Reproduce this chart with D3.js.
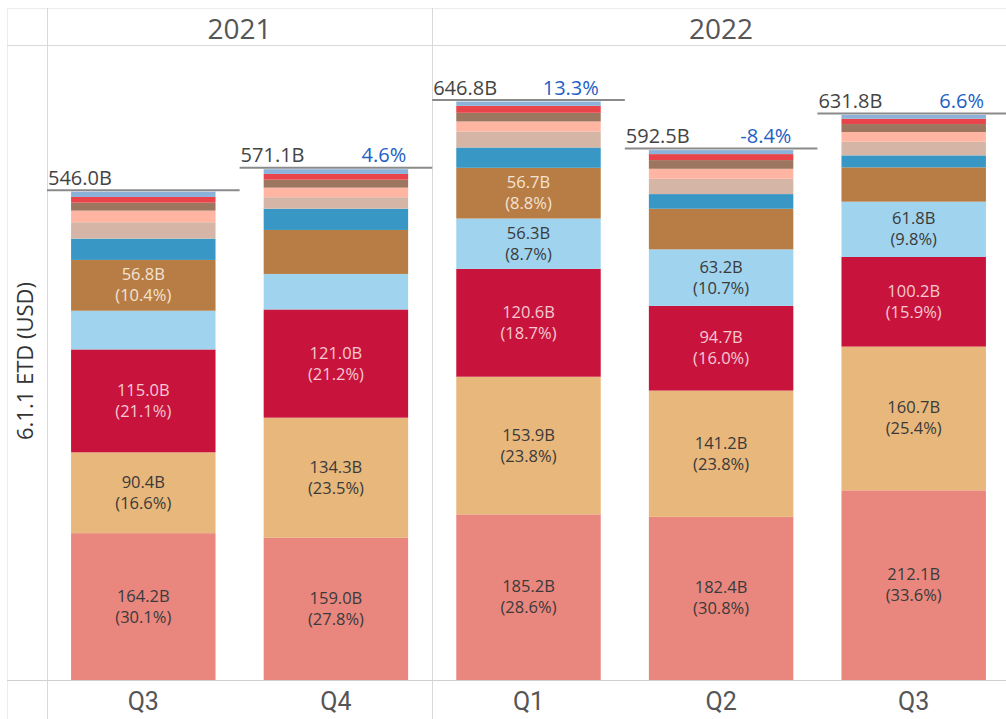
<!DOCTYPE html>
<html>
<head>
<meta charset="utf-8">
<script src="https://cdn.jsdelivr.net/npm/d3@7"></script>
<style>
  body { margin: 0; background: #fff; }
  svg text { font-family: "Open Sans", "Noto Sans", sans-serif; }
</style>
</head>
<body>
<script>
// quarters and the year they sit under
var years = ["2021", "2022"];
var quarters = ["2021 Q3", "2021 Q4", "2022 Q1", "2022 Q2", "2022 Q3"];
var quarterLabels = ["Q3", "Q4", "Q1", "Q2", "Q3"];

// stacked series, bottom to top (billions USD)
var series = ["s1", "s2", "s3", "s4", "s5", "s6", "s7", "s8", "s9", "s10", "s11"];
var s1  = [164.2, 159.0, 185.2, 182.4, 212.1];
var s2  = [90.4, 134.3, 153.9, 141.2, 160.7];
var s3  = [115.0, 121.0, 120.6, 94.7, 100.2];
var s4  = [43.3, 39.7, 56.3, 63.2, 61.8];
var s5  = [56.8, 49.2, 56.7, 45.4, 38.4];
var s6  = [23.8, 23.8, 22.7, 16.4, 13.4];
var s7  = [18.3, 12.8, 17.9, 17.1, 15.3];
var s8  = [13.0, 10.7, 11.2, 11.2, 10.8];
var s9  = [8.9, 8.9, 9.7, 9.7, 8.9];
var s10 = [6.4, 6.4, 7.8, 6.7, 5.9];
var s11 = [5.9, 5.3, 4.8, 4.5, 4.3];

// share of quarter total (%), as printed on the labels
var p1 = [30.1, 27.8, 28.6, 30.8, 33.6];
var p2 = [16.6, 23.5, 23.8, 23.8, 25.4];
var p3 = [21.1, 21.2, 18.7, 16.0, 15.9];
var p4 = [7.9, 7.0, 8.7, 10.7, 9.8];
var p5 = [10.4, 8.6, 8.8, 7.7, 6.1];

var totals = [546.0, 571.1, 646.8, 592.5, 631.8];
var changes = [null, "4.6%", "13.3%", "-8.4%", "6.6%"];

var colors = ["#e9877f", "#e8b77b", "#c8143c", "#a0d3ee", "#b87d45", "#3897c5",
              "#d5b5a6", "#ffb5a1", "#9d7660", "#e8444a", "#8db2da"];
var labelColors = ["#3a3a3a", "#3a3a3a", "#f6c8d2", "#3a3a3a", "#f3e3d3"];

var allSeries = [s1, s2, s3, s4, s5, s6, s7, s8, s9, s10, s11];
var allShares = [p1, p2, p3, p4, p5];

var width = 1006, height = 719;
var plotLeft = 47, plotRight = 1010, plotTop = 45, plotBottom = 680;

var svg = d3.select("body").append("svg")
            .attr("width", width)
            .attr("height", height);

// table-like frame lines
var gridColor = "#d9d9d9";
svg.append("line").attr("x1", 7).attr("x2", width).attr("y1", 8.5).attr("y2", 8.5)
   .attr("stroke", "#ececec");
svg.append("line").attr("x1", 7.5).attr("x2", 7.5).attr("y1", 8).attr("y2", height)
   .attr("stroke", "#ececec");
svg.append("line").attr("x1", 7).attr("x2", width).attr("y1", plotTop + 0.5).attr("y2", plotTop + 0.5)
   .attr("stroke", gridColor);

var x = d3.scaleBand()
          .domain(quarters)
          .range([plotLeft, plotRight])
          .paddingInner(0.25)
          .paddingOuter(0.125);

var y = d3.scaleLinear()
          .domain([0, 710])
          .range([plotBottom, plotTop]);

// year divider and plot left line
var yearDividerX = x(quarters[2]) - x.step() * x.paddingInner() / 2;
svg.append("line").attr("x1", plotLeft + 0.5).attr("x2", plotLeft + 0.5)
   .attr("y1", 8).attr("y2", height).attr("stroke", gridColor);
svg.append("line").attr("x1", Math.round(yearDividerX) + 0.5).attr("x2", Math.round(yearDividerX) + 0.5)
   .attr("y1", 8).attr("y2", height).attr("stroke", gridColor);

// year headers
var yearSpans = [[plotLeft, yearDividerX], [yearDividerX, plotRight]];
svg.selectAll(".year").data(years).enter().append("text")
   .attr("x", function(d, i) { return (yearSpans[i][0] + yearSpans[i][1]) / 2; })
   .attr("y", 39)
   .attr("text-anchor", "middle")
   .attr("font-size", 28)
   .attr("fill", "#555")
   .text(function(d) { return d; });

// stack the data
var rows = quarters.map(function(q, i) {
  var r = { q: q };
  series.forEach(function(s, k) { r[s] = allSeries[k][i]; });
  return r;
});
var stacked = d3.stack().keys(series)(rows);

var layers = svg.selectAll(".layer").data(stacked).enter().append("g")
                .attr("fill", function(d, k) { return colors[k]; });

layers.selectAll("rect").data(function(d) { return d; }).enter().append("rect")
      .attr("x", function(d) { return x(d.data.q); })
      .attr("width", x.bandwidth())
      .attr("y", function(d) { return y(d[1]); })
      .attr("height", function(d) { return y(d[0]) - y(d[1]); });

// segment labels for the larger pieces
stacked.forEach(function(layer, k) {
  layer.forEach(function(d, i) {
    var v = d[1] - d[0];
    if (v < 50 || k >= allShares.length) return;
    var cx = x(d.data.q) + x.bandwidth() / 2;
    var cy = (y(d[0]) + y(d[1])) / 2;
    var t = svg.append("text")
               .attr("text-anchor", "middle")
               .attr("font-size", 16.5)
               .attr("fill", labelColors[k]);
    t.append("tspan").attr("x", cx).attr("y", cy - 5).text(v.toFixed(1) + "B");
    t.append("tspan").attr("x", cx).attr("y", cy + 16)
     .text("(" + allShares[k][i].toFixed(1) + "%)");
  });
});

// total reference lines and labels
quarters.forEach(function(q, i) {
  var cellLeft = x(q) - x.step() * x.paddingInner() / 2;
  var cellRight = cellLeft + x.step();
  var ty = y(totals[i]);
  svg.append("line")
     .attr("x1", cellLeft).attr("x2", Math.min(cellRight, width))
     .attr("y1", ty - 1.5).attr("y2", ty - 1.5)
     .attr("stroke", "#8a8a8a").attr("stroke-width", 2);
  svg.append("text")
     .attr("x", cellLeft + 1)
     .attr("y", ty - 7)
     .attr("font-size", 20)
     .attr("fill", "#444")
     .text(totals[i].toFixed(1) + "B");
  if (changes[i]) {
    svg.append("text")
       .attr("x", cellRight - 26)
       .attr("y", ty - 7)
       .attr("text-anchor", "end")
       .attr("font-size", 20)
       .attr("fill", "#2260c4")
       .text(changes[i]);
  }
});

// x axis line
svg.append("line").attr("x1", 7).attr("x2", width)
   .attr("y1", plotBottom + 0.5).attr("y2", plotBottom + 0.5)
   .attr("stroke", "#d0d0d0");

// quarter labels
var xAxis = svg.append("g")
               .attr("transform", "translate(0," + plotBottom + ")")
               .call(d3.axisBottom(x).tickSize(0).tickPadding(12)
                      .tickFormat(function(d, i) { return quarterLabels[i]; }));
xAxis.select(".domain").remove();
xAxis.selectAll("text")
     .attr("font-size", 25)
     .attr("fill", "#555")
     .style("font-family", "'Liberation Sans Narrow', 'Roboto', sans-serif");

// y axis title
svg.append("text")
   .attr("transform", "translate(33," + 361 + ") rotate(-90)")
   .attr("text-anchor", "middle")
   .attr("font-size", 22)
   .attr("fill", "#333")
   .text("6.1.1 ETD (USD)");
</script>
</body>
</html>
